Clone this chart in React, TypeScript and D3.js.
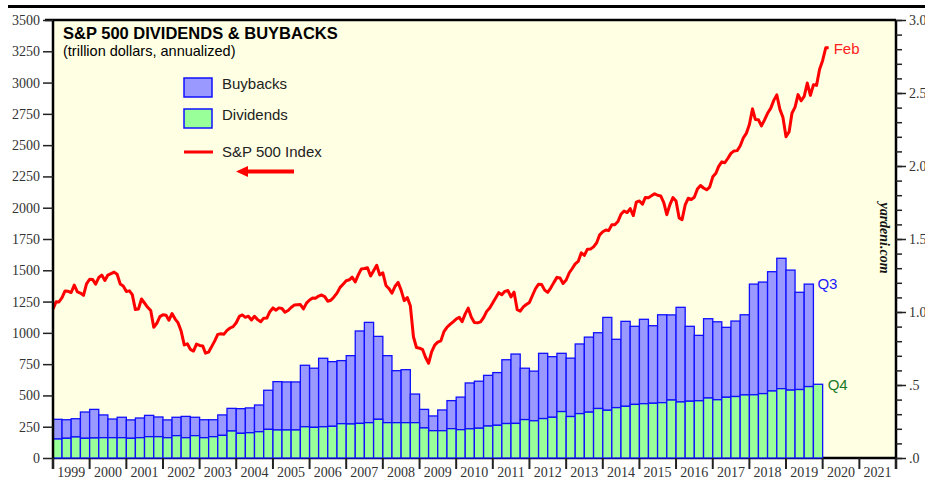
import React, { useEffect, useRef } from "react";
import * as d3 from "d3";

// S&P 500 monthly average, Dec 1998 .. Feb 2020
const sp500 = [
  1190.1,
  1248.8, 1246.6, 1281.7, 1334.8, 1332.1, 1322.6, 1381.0, 1327.5, 1318.2, 1300.0, 1391.0, 1428.7,
  1425.6, 1388.9, 1442.2, 1461.4, 1418.5, 1461.9, 1473.0, 1485.5, 1468.1, 1390.1, 1375.0, 1330.9,
  1335.6, 1305.8, 1185.9, 1189.8, 1270.4, 1238.7, 1204.5, 1178.5, 1044.6, 1076.6, 1129.7, 1144.9,
  1140.2, 1100.7, 1153.8, 1112.0, 1079.3, 1014.0, 903.6, 912.6, 867.8, 854.6, 909.9, 899.2,
  895.8, 837.6, 846.6, 890.0, 935.9, 988.0, 992.5, 989.5, 1019.4, 1038.7, 1049.9, 1080.6,
  1132.5, 1143.4, 1124.0, 1133.1, 1102.8, 1132.8, 1105.8, 1088.9, 1117.7, 1118.1, 1168.9, 1199.2,
  1181.4, 1199.6, 1194.9, 1164.4, 1178.3, 1202.3, 1222.2, 1224.3, 1225.9, 1191.3, 1237.4, 1262.1,
  1278.7, 1276.7, 1293.7, 1302.2, 1290.0, 1253.1, 1260.2, 1287.2, 1317.7, 1363.4, 1388.6, 1416.4,
  1424.2, 1444.8, 1406.8, 1463.6, 1511.1, 1514.5, 1520.7, 1454.6, 1497.1, 1539.7, 1463.4, 1479.2,
  1378.8, 1354.9, 1316.9, 1370.5, 1403.2, 1341.3, 1257.3, 1281.5, 1217.0, 968.8, 883.0, 877.6,
  865.6, 805.2, 757.1, 848.2, 902.4, 926.1, 935.8, 1009.7, 1044.6, 1067.7, 1088.1, 1110.4,
  1123.6, 1089.2, 1152.0, 1197.3, 1125.1, 1083.4, 1079.8, 1087.3, 1122.1, 1171.6, 1198.9, 1241.5,
  1282.6, 1321.1, 1304.5, 1331.5, 1338.3, 1287.3, 1325.2, 1185.3, 1173.9, 1207.2, 1226.4, 1243.3,
  1300.6, 1352.5, 1389.2, 1386.4, 1341.3, 1323.5, 1359.8, 1403.4, 1443.4, 1437.8, 1394.5, 1422.3,
  1480.4, 1512.3, 1550.8, 1570.7, 1639.8, 1618.8, 1668.7, 1670.1, 1687.2, 1720.0, 1783.5, 1807.8,
  1822.4, 1817.0, 1863.5, 1864.3, 1889.8, 1947.1, 1973.1, 1961.5, 1993.2, 1937.3, 2044.6, 2054.3,
  2028.2, 2082.2, 2080.0, 2094.9, 2111.9, 2099.3, 2094.1, 2039.9, 1944.4, 2024.8, 2080.6, 2054.1,
  1918.6, 1904.4, 2022.0, 2075.5, 2065.6, 2083.9, 2148.9, 2177.5, 2157.7, 2143.0, 2165.0, 2246.6,
  2275.1, 2329.9, 2366.8, 2359.3, 2395.3, 2434.0, 2454.1, 2456.2, 2492.8, 2557.0, 2593.6, 2664.3,
  2789.8, 2705.2, 2702.8, 2653.6, 2701.5, 2754.4, 2793.6, 2857.8, 2901.5, 2785.5, 2723.2, 2567.3,
  2607.4, 2754.9, 2804.0, 2903.8, 2854.7, 2890.2, 2996.1, 2897.5, 2982.2, 2977.7, 3104.9, 3176.7,
  3278.2, 3277.3,
];

// quarterly, trillion dollars annualized, Q1 1999 .. Q4 2019
const dividends = [
  0.130, 0.135, 0.144, 0.135, 0.137, 0.139, 0.139, 0.139, 0.135, 0.139, 0.146, 0.146,
  0.139, 0.153, 0.139, 0.153, 0.139, 0.146, 0.155, 0.185, 0.169, 0.173, 0.180, 0.196,
  0.192, 0.192, 0.192, 0.214, 0.210, 0.214, 0.217, 0.235, 0.233, 0.237, 0.242, 0.265,
  0.242, 0.242, 0.242, 0.242, 0.206, 0.187, 0.187, 0.201, 0.194, 0.200, 0.204, 0.219,
  0.224, 0.236, 0.237, 0.263, 0.255, 0.270, 0.279, 0.318, 0.284, 0.304, 0.314, 0.339,
  0.327, 0.345, 0.354, 0.367, 0.372, 0.375, 0.379, 0.397, 0.384, 0.389, 0.392, 0.411,
  0.399, 0.416, 0.421, 0.432, 0.433, 0.441, 0.459, 0.475, 0.465, 0.469, 0.489, 0.505,
];

// quarterly buybacks, Q1 1999 .. Q3 2019
const buybacks = [
  0.135, 0.127, 0.125, 0.180, 0.196, 0.156, 0.128, 0.140, 0.126, 0.135, 0.146, 0.135,
  0.122, 0.126, 0.146, 0.126, 0.123, 0.116, 0.140, 0.155, 0.169, 0.170, 0.183, 0.268,
  0.331, 0.329, 0.329, 0.421, 0.405, 0.469, 0.443, 0.432, 0.468, 0.633, 0.687, 0.568,
  0.459, 0.356, 0.363, 0.196, 0.127, 0.101, 0.142, 0.192, 0.223, 0.314, 0.322, 0.347,
  0.361, 0.437, 0.475, 0.352, 0.340, 0.447, 0.415, 0.399, 0.400, 0.477, 0.514, 0.519,
  0.636, 0.468, 0.582, 0.535, 0.578, 0.531, 0.602, 0.583, 0.648, 0.513, 0.448, 0.543,
  0.534, 0.479, 0.517, 0.549, 0.758, 0.764, 0.817, 0.893, 0.822, 0.666, 0.702,
];

const years = d3.range(1999, 2022);
const leftTicks = d3.range(0, 3501, 250);
const rightMinor = d3.range(0, 31).map(d => d / 10);
const rightMajor = [0, 0.5, 1, 1.5, 2, 2.5, 3];

const W = 925, H = 486;
const PL = 53, PR = 896, PT = 20, PB = 458;

const serif = '"Liberation Serif", "Times New Roman", serif';
const sans = '"Liberation Sans", Arial, sans-serif';

function Chart() {
  const ref = useRef<SVGSVGElement>(null);

  useEffect(() => {
    const svg = d3.select(ref.current);
    svg.selectAll("*").remove();

    const x = d3.scaleTime().domain([new Date(1999, 0, 1), new Date(2022, 0, 1)]).range([PL, PR]);
    const yL = d3.scaleLinear().domain([0, 3500]).range([PB, PT]);
    const yR = d3.scaleLinear().domain([0, 3]).range([PB, PT]);

    // top rule of the screenshot
    svg.append("rect").attr("x", 8).attr("y", 5).attr("width", W - 8).attr("height", 3).attr("fill", "#000");

    svg.append("rect")
      .attr("x", PL).attr("y", PT).attr("width", PR - PL).attr("height", PB - PT)
      .attr("fill", "#ffffe3");

    svg.append("line").attr("x1", PL).attr("x2", PR).attr("y1", PB).attr("y2", PB)
      .attr("stroke", "#000").attr("stroke-width", 2.5);

    // bars
    const qx = (i: number, end: number) => {
      const yr = 1999 + Math.floor(i / 4);
      return x(new Date(yr, (i % 4) * 3 + end * 3, 1));
    };
    const bars = svg.append("g");
    bars.selectAll("rect.bb")
      .data(buybacks)
      .enter()
      .append("rect")
      .attr("class", "bb")
      .attr("x", (d, i) => qx(i, 0))
      .attr("width", (d, i) => qx(i, 1) - qx(i, 0))
      .attr("y", (d, i) => yR(d + dividends[i]))
      .attr("height", (d, i) => yR(dividends[i]) - yR(d + dividends[i]))
      .attr("fill", "#9999ff")
      .attr("stroke", "#1010ff")
      .attr("stroke-width", 1.3);
    bars.selectAll("rect.dv")
      .data(dividends)
      .enter()
      .append("rect")
      .attr("class", "dv")
      .attr("x", (d, i) => qx(i, 0))
      .attr("width", (d, i) => qx(i, 1) - qx(i, 0))
      .attr("y", d => yR(d))
      .attr("height", d => yR(0) - yR(d))
      .attr("fill", "#99ff99")
      .attr("stroke", "#1010ff")
      .attr("stroke-width", 1.3);

    // S&P line, each month drawn at month end
    const pts: [Date, number][] = sp500.map((v, i) => [new Date(1998, 12 + i, 1), v]);
    const line = d3.line<[Date, number]>().x(d => x(d[0])).y(d => yL(d[1]));
    svg.append("path")
      .attr("d", line(pts))
      .attr("fill", "none")
      .attr("stroke", "#ff0000")
      .attr("stroke-width", 3)
      .attr("stroke-linejoin", "round");

    // frame
    svg.append("line").attr("x1", PL - 8).attr("x2", PR).attr("y1", PT).attr("y2", PT)
      .attr("stroke", "#000").attr("stroke-width", 2.5);
    svg.append("line").attr("x1", PL).attr("x2", PL).attr("y1", PT).attr("y2", PB + 11)
      .attr("stroke", "#000").attr("stroke-width", 2.5);
    svg.append("line").attr("x1", PR).attr("x2", PR).attr("y1", PT).attr("y2", PB + 11)
      .attr("stroke", "#000").attr("stroke-width", 2.5);

    // left axis
    const left = svg.append("g")
      .attr("transform", `translate(${PL},0)`)
      .call(d3.axisLeft(yL).tickValues(leftTicks).tickSize(10).tickPadding(3).tickFormat(d3.format("d")));
    left.select(".domain").remove();
    left.selectAll("line").attr("stroke", "#222").attr("stroke-width", 1.5);
    left.selectAll("text").attr("font-family", serif).attr("font-size", 14).attr("fill", "#333");

    // right axis
    const rm = svg.append("g")
      .attr("transform", `translate(${PR},0)`)
      .call(d3.axisRight(yR).tickValues(rightMinor).tickSize(6).tickFormat(() => ""));
    rm.select(".domain").remove();
    rm.selectAll("line").attr("stroke", "#222").attr("stroke-width", 1.5);
    const rM = svg.append("g")
      .attr("transform", `translate(${PR},0)`)
      .call(d3.axisRight(yR).tickValues(rightMajor).tickSize(10).tickPadding(3)
        .tickFormat((d: any) => (d < 1 ? "." + Math.round(d * 10) : d3.format(".1f")(d))));
    rM.select(".domain").remove();
    rM.selectAll("line").attr("stroke", "#222").attr("stroke-width", 1.5);
    rM.selectAll("text").attr("font-family", serif).attr("font-size", 14).attr("fill", "#333");

    // bottom axis
    const bot = svg.append("g");
    bot.selectAll("line")
      .data(years.concat([2022]))
      .enter()
      .append("line")
      .attr("x1", d => x(new Date(d, 0, 1)))
      .attr("x2", d => x(new Date(d, 0, 1)))
      .attr("y1", PB).attr("y2", PB + 11)
      .attr("stroke", "#222").attr("stroke-width", 2);
    bot.selectAll("text")
      .data(years)
      .enter()
      .append("text")
      .attr("x", d => x(new Date(d, 6, 1)))
      .attr("y", 477)
      .attr("text-anchor", "middle")
      .attr("font-family", serif)
      .attr("font-size", 14)
      .attr("fill", "#333")
      .text(d => d);

    // titles
    svg.append("text").attr("x", 63).attr("y", 39)
      .attr("font-family", sans).attr("font-weight", "bold").attr("font-size", 16.5)
      .text("S&P 500 DIVIDENDS & BUYBACKS");
    svg.append("text").attr("x", 63).attr("y", 56)
      .attr("font-family", sans).attr("font-size", 14.5)
      .text("(trillion dollars, annualized)");

    // legend
    const lg = svg.append("g").attr("font-family", sans).attr("font-size", 15).attr("fill", "#222");
    lg.append("rect").attr("x", 184).attr("y", 78).attr("width", 28).attr("height", 19)
      .attr("fill", "#9999ff").attr("stroke", "#1010ff").attr("stroke-width", 1.5);
    lg.append("text").attr("x", 222).attr("y", 89).text("Buybacks");
    lg.append("rect").attr("x", 184).attr("y", 109).attr("width", 28).attr("height", 19)
      .attr("fill", "#99ff99").attr("stroke", "#1010ff").attr("stroke-width", 1.5);
    lg.append("text").attr("x", 222).attr("y", 120).text("Dividends");
    lg.append("line").attr("x1", 184).attr("x2", 213).attr("y1", 152).attr("y2", 152)
      .attr("stroke", "#ff0000").attr("stroke-width", 3);
    lg.append("text").attr("x", 222).attr("y", 157).text("S&P 500 Index");

    // arrow pointing to left axis
    svg.append("line").attr("x1", 294).attr("x2", 246).attr("y1", 171.5).attr("y2", 171.5)
      .attr("stroke", "#ff0000").attr("stroke-width", 4);
    svg.append("path").attr("d", "M236,171.5 L248,166 L248,177 Z").attr("fill", "#ff0000");

    // end labels
    const last = pts[pts.length - 1];
    svg.append("text").attr("x", x(last[0]) + 5).attr("y", yL(last[1]) + 6)
      .attr("font-family", sans).attr("font-size", 15).attr("fill", "#ff2020").text("Feb");
    const nb = buybacks.length - 1;
    svg.append("text").attr("x", qx(nb, 1) + 4).attr("y", yR(buybacks[nb] + dividends[nb]) + 5)
      .attr("font-family", sans).attr("font-size", 15).attr("fill", "#1a1aff").text("Q3");
    const nd = dividends.length - 1;
    svg.append("text").attr("x", qx(nd, 1) + 5).attr("y", yR(dividends[nd]) + 6)
      .attr("font-family", sans).attr("font-size", 15).attr("fill", "#1a7a2a").text("Q4");

    svg.append("text")
      .attr("transform", "translate(880,238) rotate(90)")
      .attr("text-anchor", "middle")
      .attr("font-family", serif).attr("font-weight", "bold").attr("font-style", "italic")
      .attr("font-size", 14).attr("fill", "#111")
      .text("yardeni.com");
  }, []);

  return <svg ref={ref} width={W} height={H} style={{ position: "absolute", left: 0, top: 0, background: "#fff" }} />;
}

export default function App() {
  return <Chart />;
}
